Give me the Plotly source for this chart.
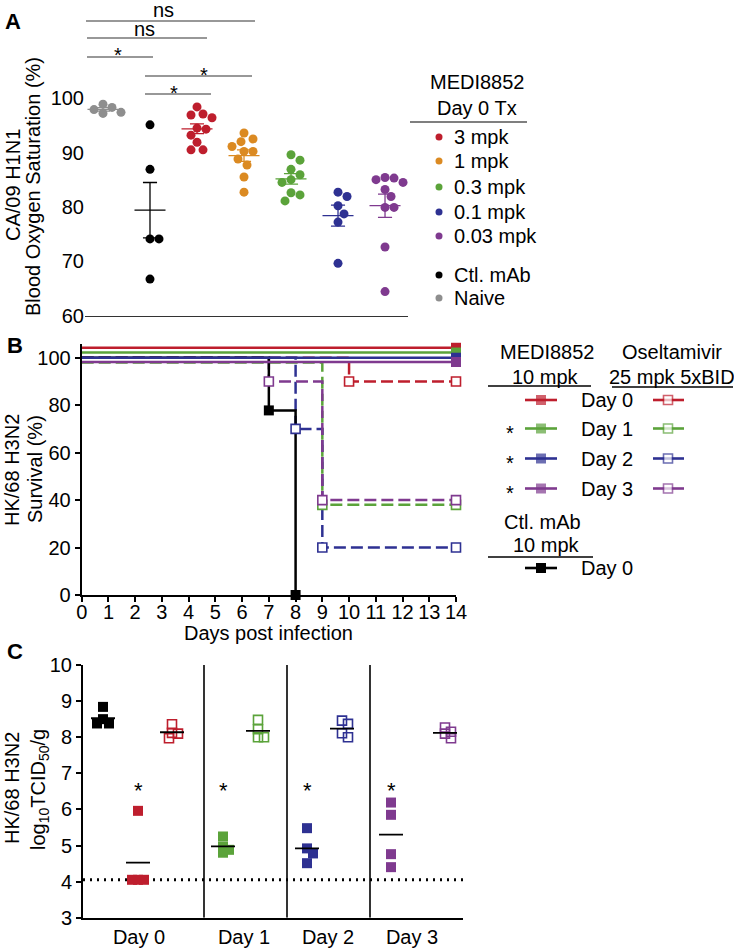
import numpy as np
import plotly.graph_objects as go

FONT = "Liberation Sans, Arial, Helvetica, sans-serif"

# ======================= DATA =======================
# ---- Panel A: CA/09 H1N1 blood oxygen saturation (%) ----
a_groups = ["Naive", "Ctl. mAb", "3 mpk", "1 mpk", "0.3 mpk", "0.1 mpk", "0.03 mpk"]
a_naive = [98.9, 98.3, 97.9, 97.4, 97.2]
a_ctl = [95.1, 86.9, 74.1, 74.1, 66.7]
a_3mpk = [98.4, 97.1, 96.9, 96.4, 94.5, 94.3, 93.2, 91.9, 90.5, 90.5]
a_1mpk = [93.6, 92.5, 92.0, 91.1, 90.2, 90.2, 88.8, 87.7, 85.5, 82.7]
a_03mpk = [89.6, 88.6, 86.9, 85.9, 85.0, 84.5, 82.6, 82.2, 81.1]
a_01mpk = [82.7, 81.9, 80.2, 78.7, 77.2, 69.6]
a_003mpk = [85.4, 85.3, 85.0, 84.5, 83.2, 81.9, 79.9, 79.9, 72.6, 64.4]
a_ticks = [60, 70, 80, 90, 100]
a_legend_title = ["MEDI8852", "Day 0 Tx"]
a_legend_items = ["3 mpk", "1 mpk", "0.3 mpk", "0.1 mpk", "0.03 mpk", "Ctl. mAb", "Naive"]
a_sig_labels = ["ns", "ns", "*", "*", "*"]

# ---- Panel B: HK/68 H3N2 survival (%) ----
b_days = list(range(0, 15))
b_surv_ticks = [0, 20, 40, 60, 80, 100]
b_day_labels = ["Day 0", "Day 1", "Day 2", "Day 3"]
b_medi_t = [[0, 14], [0, 14], [0, 14], [0, 14]]
b_medi_surv = [[100, 100], [100, 100], [100, 100], [100, 100]]
b_osel_t = [[0, 10, 14], [0, 9, 14], [0, 8, 9, 14], [0, 7, 9, 14]]
b_osel_surv = [[100, 90, 90], [100, 40, 40], [100, 70, 20, 20], [100, 90, 40, 40]]
b_ctl_t = [0, 7, 8]
b_ctl_surv = [100, 77.8, 0]
b_medi_sig = ["", "*", "*", "*"]

# ---- Panel C: HK/68 H3N2 lung titers (log10 TCID50/g) ----
c_day_labels = ["Day 0", "Day 1", "Day 2", "Day 3"]
c_ctl_d0 = [8.84, 8.50, 8.38, 8.38]
c_medi = [[5.96, 4.05, 4.05, 4.05],
          [5.25, 4.97, 4.88, 4.80],
          [5.48, 4.92, 4.78, 4.51],
          [6.19, 5.85, 4.76, 4.40]]
c_osel = [[8.36, 8.12, 8.10, 7.97],
          [8.48, 8.22, 8.00, 8.00],
          [8.46, 8.37, 8.11, 8.00],
          [8.27, 8.15, 8.10, 7.97]]
c_lod = 4.05
c_ticks = [3, 4, 5, 6, 7, 8, 9, 10]
c_sig = ["*", "*", "*", "*"]

# ======================= STYLE / LAYOUT =======================
RED = "#BE1E2D"
ORANGE = "#DB8A22"
GREEN = "#5BA33A"
BLUE = "#2E3192"
PURPLE = "#7F3A8F"
GRAY = "#8E8E8E"
DAY_COLORS = [RED, GREEN, BLUE, PURPLE]

W, H = 734, 950


def ydom(top_px, bot_px):
    return [1 - bot_px / H, 1 - top_px / H]


def swarm(vals, y_px_per_unit, dmin, step):
    """simple beeswarm: horizontal pixel offsets so markers don't overlap"""
    order = sorted(range(len(vals)), key=lambda i: -vals[i])
    placed, offs = [], [0.0] * len(vals)
    for i in order:
        y = vals[i] * y_px_per_unit
        k = 0
        while True:
            if k == 0:
                c = 0.0
            else:
                m = (k + 1) // 2
                c = m * step * (1 if k % 2 == 1 else -1)
            if all((c - px) ** 2 + (y - py) ** 2 >= dmin ** 2 - 1e-9 for px, py in placed):
                break
            k += 1
        placed.append((c, y))
        offs[i] = c
    return offs


fig = go.Figure()
annotations, shapes = [], []


def text(x, y, s, size=20, xanchor="center", yanchor="middle", angle=0, bold=False, color="black"):
    annotations.append(dict(x=x, y=y, xref="x4", yref="y4", text=("<b>%s</b>" % s) if bold else s,
                            showarrow=False, xanchor=xanchor, yanchor=yanchor, textangle=angle,
                            font=dict(family=FONT, size=size, color=color)))


def hline(x0, x1, y, width=1.2, color="black"):
    shapes.append(dict(type="line", xref="x4", yref="y4", x0=x0, x1=x1, y0=y, y1=y,
                       line=dict(color=color, width=width)))


# ---------------- Panel A ----------------
A_XPX, A_YPX = 47.0, 5.43
a_series = [a_naive, a_ctl, a_3mpk, a_1mpk, a_03mpk, a_01mpk, a_003mpk]
a_colors = [GRAY, "black", RED, ORANGE, GREEN, BLUE, PURPLE]
for i, (vals, col) in enumerate(zip(a_series, a_colors)):
    offs = swarm(vals, A_YPX, 9.0, 3.0)
    xs = [i + o / A_XPX for o in offs]
    fig.add_trace(go.Scatter(x=xs, y=vals, mode="markers", xaxis="x", yaxis="y", cliponaxis=False,
                             marker=dict(size=9, color=col, line=dict(width=0)), hoverinfo="skip"))
    m = float(np.mean(vals))
    s = float(np.std(vals, ddof=1) / np.sqrt(len(vals)))
    hw, cw = 0.33, 0.15
    ex = [i - hw, i + hw, None, i, i, None, i - cw, i + cw, None, i - cw, i + cw]
    ey = [m, m, None, m - s, m + s, None, m + s, m + s, None, m - s, m - s]
    fig.add_trace(go.Scatter(x=ex, y=ey, mode="lines", xaxis="x", yaxis="y", cliponaxis=False,
                             line=dict(color=col, width=1.3), hoverinfo="skip"))

# significance brackets (pixel layout)
a_br_px = [(86, 255, 21), (87, 207, 38), (87, 153, 57), (145, 252, 76), (145, 211, 94)]
a_br_txt = [(163, 10), (144, 29), (118, 55), (204, 74.5), (174, 93)]
for (x0, x1, yy), (tx, ty), lab in zip(a_br_px, a_br_txt, a_sig_labels):
    hline(x0, x1, yy, width=1.1, color="#333333")
    text(tx, ty, lab, size=20)

text(3, 21, "A", size=22, xanchor="left", bold=True)
text(13, 185, "CA/09 H1N1", angle=-90)
text(33, 187, "Blood Oxygen Saturation (%)", angle=-90)

# legend A
text(477, 82, a_legend_title[0])
text(477, 108, a_legend_title[1])
hline(410, 527, 122, width=1.2)
a_leg_y = [137, 161, 187, 212, 236, 275, 298]
a_leg_col = [RED, ORANGE, GREEN, BLUE, PURPLE, "black", GRAY]
fig.add_trace(go.Scatter(x=[439] * len(a_leg_y), y=a_leg_y, mode="markers", xaxis="x4", yaxis="y4",
                         marker=dict(size=7, color=a_leg_col), hoverinfo="skip"))
for yy, lab in zip(a_leg_y, a_legend_items):
    text(452, yy, lab, xanchor="left")

# ---------------- Panel B ----------------
b_medi_nudge = [4.2, 2.2, 0.0, -1.8]
b_osel_nudge = [0.0, -2.0, 0.0, 0.0]
DASH = "12px,5px"
for k in range(4):
    ys = [v + b_osel_nudge[k] for v in b_osel_surv[k]]
    fig.add_trace(go.Scatter(x=b_osel_t[k], y=ys, mode="lines", xaxis="x2", yaxis="y2", cliponaxis=False,
                             line=dict(color=DAY_COLORS[k], width=2.5, dash=DASH, shape="hv"), hoverinfo="skip"))
fig.add_trace(go.Scatter(x=b_ctl_t, y=b_ctl_surv, mode="lines", xaxis="x2", yaxis="y2", cliponaxis=False,
                         line=dict(color="black", width=2.5, shape="hv"), hoverinfo="skip"))
for k in range(4):
    ys = [v + b_medi_nudge[k] for v in b_medi_surv[k]]
    fig.add_trace(go.Scatter(x=b_medi_t[k], y=ys, mode="lines", xaxis="x2", yaxis="y2", cliponaxis=False,
                             line=dict(color=DAY_COLORS[k], width=2.6), hoverinfo="skip"))
# markers
for k in range(4):
    ys = [v + b_osel_nudge[k] for v in b_osel_surv[k]]
    fig.add_trace(go.Scatter(x=b_osel_t[k][1:], y=ys[1:], mode="markers", xaxis="x2", yaxis="y2",
                             cliponaxis=False, hoverinfo="skip",
                             marker=dict(symbol="square", size=9, color="white",
                                         line=dict(color=DAY_COLORS[k], width=1.6))))
fig.add_trace(go.Scatter(x=b_ctl_t[1:], y=b_ctl_surv[1:], mode="markers", xaxis="x2", yaxis="y2",
                         cliponaxis=False, hoverinfo="skip",
                         marker=dict(symbol="square", size=10, color="black")))
for k in range(4):
    ys = [v + b_medi_nudge[k] for v in b_medi_surv[k]]
    fig.add_trace(go.Scatter(x=b_medi_t[k][-1:], y=ys[-1:], mode="markers", xaxis="x2", yaxis="y2",
                             cliponaxis=False, hoverinfo="skip",
                             marker=dict(symbol="square", size=10, color=DAY_COLORS[k])))

text(5, 345, "B", size=22, xanchor="left", bold=True)
text(12, 470, "HK/68 H3N2", angle=-90)
text(35, 469, "Survival (%)", angle=-90)
text(268, 633, "Days post infection")

# legend B
text(547, 352, "MEDI8852")
text(545, 377, "10 mpk")
hline(488, 591, 386, width=1.4)
text(672, 352, "Oseltamivir")
text(672, 377, "25 mpk 5xBID")
hline(612, 733, 387, width=1.4)
b_leg_y = [400, 428.5, 458.5, 488.5]
for k, yy in enumerate(b_leg_y):
    c = DAY_COLORS[k]
    fig.add_trace(go.Scatter(x=[525, 557], y=[yy, yy], mode="lines", xaxis="x4", yaxis="y4",
                             line=dict(color=c, width=2.6), hoverinfo="skip"))
    fig.add_trace(go.Scatter(x=[653, 684], y=[yy, yy], mode="lines", xaxis="x4", yaxis="y4",
                             line=dict(color=c, width=2.6), hoverinfo="skip"))
    fig.add_trace(go.Scatter(x=[541, 668], y=[yy, yy], mode="markers", xaxis="x4", yaxis="y4",
                             hoverinfo="skip",
                             marker=dict(symbol="square", size=[10, 9], color=[c, "white"],
                                         line=dict(color=c, width=[0, 1.6]))))
    text(579, yy, b_day_labels[k], xanchor="left")
    if b_medi_sig[k]:
        text(510, yy + 4, b_medi_sig[k])
text(542, 522, "Ctl. mAb")
text(546, 545, "10 mpk")
hline(488, 593, 557, width=1.4)
fig.add_trace(go.Scatter(x=[525, 557], y=[568, 568], mode="lines", xaxis="x4", yaxis="y4",
                         line=dict(color="black", width=2.6), hoverinfo="skip"))
fig.add_trace(go.Scatter(x=[541], y=[568], mode="markers", xaxis="x4", yaxis="y4", hoverinfo="skip",
                         marker=dict(symbol="square", size=10, color="black")))
text(579, 568, "Day 0", xanchor="left")

# ---------------- Panel C ----------------
C_YPX = 36.1
c_slot_ctl = 20
c_slot_medi = [55, 140, 224, 308]
c_slot_osel = [89, 175, 259, 362]
c_sep = [121, 204, 287]
c_label_x = [56, 161, 245, 329]
C_HALF = 12


def c_group(vals, x0, color, filled):
    offs = swarm(vals, C_YPX, 6.0, 3.0)
    xs = [x0 + o for o in offs]
    if filled:
        mk = dict(symbol="square", size=10, color=color, line=dict(width=0))
    else:
        mk = dict(symbol="square-open", size=9, color=color, line=dict(color=color, width=1.6))
    fig.add_trace(go.Scatter(x=xs, y=vals, mode="markers", xaxis="x3", yaxis="y3", cliponaxis=False,
                             marker=mk, hoverinfo="skip"))
    m = float(np.mean(vals))
    fig.add_trace(go.Scatter(x=[x0 - C_HALF, x0 + C_HALF], y=[m, m], mode="lines", xaxis="x3", yaxis="y3",
                             cliponaxis=False, line=dict(color="black", width=1.8), hoverinfo="skip"))


for xs in c_sep:
    fig.add_trace(go.Scatter(x=[xs, xs], y=[c_ticks[0], c_ticks[-1]], mode="lines", xaxis="x3", yaxis="y3",
                             line=dict(color="black", width=1.6), hoverinfo="skip"))
fig.add_trace(go.Scatter(x=[0, 380], y=[c_lod, c_lod], mode="lines", xaxis="x3", yaxis="y3",
                         line=dict(color="black", width=3, dash="2px,5px"), hoverinfo="skip"))
c_group(c_ctl_d0, c_slot_ctl, "black", True)
for k in range(4):
    c_group(c_medi[k], c_slot_medi[k], DAY_COLORS[k], True)
    c_group(c_osel[k], c_slot_osel[k], DAY_COLORS[k], False)
    text(83 + c_slot_medi[k], 790, c_sig[k], size=22)

text(5, 651, "C", size=22, xanchor="left", bold=True)
text(12, 788, "HK/68 H3N2", angle=-90)
text(39, 790, "log<sub>10</sub>TCID<sub>50</sub>/g", angle=-90)

# ======================= AXES =======================
tickfont = dict(family=FONT, size=20, color="black")
common = dict(showgrid=False, zeroline=False, fixedrange=True, automargin=False)
fig.update_layout(
    width=W, height=H, margin=dict(l=0, r=0, t=0, b=0, pad=0, autoexpand=False),
    paper_bgcolor="white", plot_bgcolor="rgba(0,0,0,0)", showlegend=False,
    font=dict(family=FONT, size=20, color="black"),
    xaxis=dict(domain=[85 / W, 408 / W], range=[-0.383, 6.489], anchor="y", showline=True,
               linecolor="#333333", linewidth=1.2, showticklabels=False, ticks="", **common),
    yaxis=dict(domain=ydom(14, 315.5), range=[60, 115.5], anchor="x", tickvals=a_ticks,
               showline=False, ticks="", tickfont=tickfont, **common),
    xaxis2=dict(domain=[81.7 / W, 456 / W], range=[0, 14], anchor="y2", showline=True, linecolor="black",
                linewidth=2, ticks="outside", ticklen=5, tickwidth=2, tickcolor="black",
                ticklabelstandoff=-7,
                tickvals=b_days, tickfont=tickfont, **common),
    yaxis2=dict(domain=ydom(343.5, 595), range=[0, 106], anchor="x2", showline=True, linecolor="black",
                linewidth=2, ticks="outside", ticklen=5, tickwidth=2, tickcolor="black",
                tickvals=b_surv_ticks, tickfont=tickfont, **common),
    xaxis3=dict(domain=[83 / W, 463 / W], range=[0, 380], anchor="y3", showline=True, linecolor="black",
                linewidth=2, ticks="", tickvals=c_label_x, ticktext=c_day_labels, tickfont=tickfont, **common),
    yaxis3=dict(domain=ydom(665, 917.7), range=[3, 10], anchor="x3", showline=True, linecolor="black",
                linewidth=2, ticks="outside", ticklen=5, tickwidth=2, tickcolor="black",
                tickvals=c_ticks, tickfont=tickfont, **common),
    xaxis4=dict(domain=[0, 1], range=[0, W], anchor="y4", visible=False, **common),
    yaxis4=dict(domain=[0, 1], range=[H, 0], anchor="x4", visible=False, **common),
    annotations=annotations, shapes=shapes,
)

fig.write_html("out.html", config={"displayModeBar": False},
               post_script="document.body.style.margin='0px';document.body.style.padding='0px';"
                           "document.body.style.overflow='hidden';")
